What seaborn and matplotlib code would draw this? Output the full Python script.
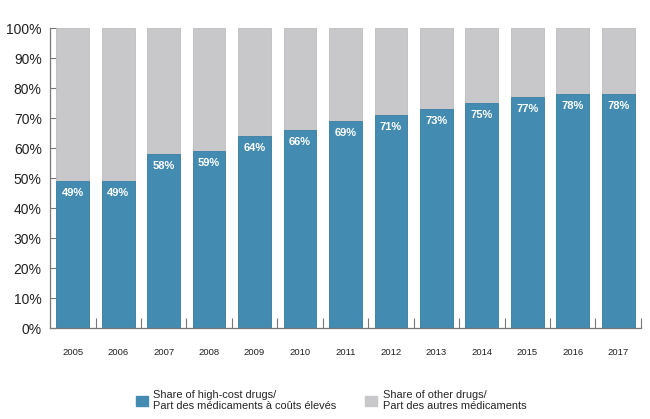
import matplotlib
matplotlib.use("Agg")
import matplotlib.pyplot as plt
import seaborn as sns
import pandas as pd
from matplotlib.patches import Patch
from matplotlib.ticker import FixedLocator

years = ["2005", "2006", "2007", "2008", "2009", "2010", "2011",
         "2012", "2013", "2014", "2015", "2016", "2017"]
high_cost = [49, 49, 58, 59, 64, 66, 69, 71, 73, 75, 77, 78, 78]
total = [100] * len(years)
series_labels = ["Share of high-cost drugs/\nPart des médicaments à coûts élevés",
                 "Share of other drugs/\nPart des autres médicaments"]
blue = "#438bb0"
gray = "#c8c8ca"

sns.set_theme(style="white")
plt.rcParams['font.family'] = ['Liberation Sans', 'DejaVu Sans']

df = pd.DataFrame({"year": years, "high": high_cost, "total": total})

fig = plt.figure(figsize=(6.5, 4.19), dpi=100)
ax = fig.add_axes([0.077, 0.217, 0.909, 0.716])

sns.barplot(data=df, x="year", y="total", color=gray, saturation=1, width=0.72,
            linewidth=0.6, edgecolor="#bdbdbf", ax=ax)
sns.barplot(data=df, x="year", y="high", color=blue, saturation=1, width=0.72,
            linewidth=0.6, edgecolor="#3a7fa3", ax=ax)

for i, v in enumerate(high_cost):
    ax.text(i, v - 2.4, f"{v}%", ha="center", va="top", color="white",
            fontsize=8, fontweight="bold", fontstretch="condensed")

ax.set_xlim(-0.5, len(years) - 0.5)
ax.set_ylim(0, 100)
ax.set_yticks(range(0, 101, 10))
ax.set_yticklabels([f"{t}%" for t in range(0, 101, 10)], fontsize=10, color="#222222")
ax.set_xlabel("")
ax.set_ylabel("")
ax.tick_params(axis="x", which="major", length=0, labelsize=6.8, pad=14, labelcolor="#222222")
ax.xaxis.set_minor_locator(FixedLocator([i + 0.5 for i in range(len(years))]))
ax.tick_params(axis="x", which="minor", direction="in", length=7, width=0.8, color="#777777", bottom=True)
ax.tick_params(axis="y", direction="in", length=5, width=0.8, color="#777777", left=True, pad=6)

for s in ["top", "right"]:
    ax.spines[s].set_visible(False)
for s in ["left", "bottom"]:
    ax.spines[s].set_color("#777777")
    ax.spines[s].set_linewidth(0.9)

handles = [Patch(facecolor=blue, edgecolor=blue), Patch(facecolor=gray, edgecolor=gray)]
fig.legend(handles, series_labels, loc="lower left", bbox_to_anchor=(0.197, 0.0),
           ncol=2, frameon=False, fontsize=7.9, handlelength=1.1, handleheight=1.1,
           columnspacing=2.6, handletextpad=0.5, borderaxespad=0.3)

fig.savefig("out.png", dpi=100)
